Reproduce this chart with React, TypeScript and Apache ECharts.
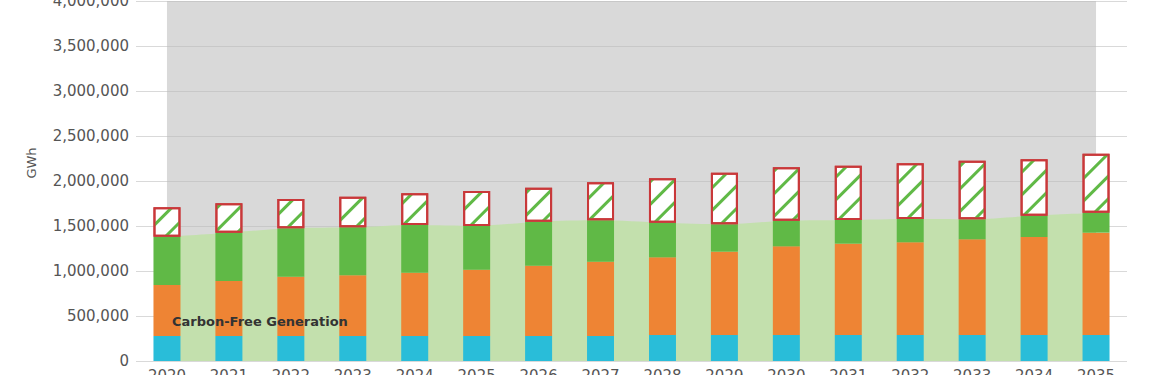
import React, { useEffect, useRef } from "react";
import * as echarts from "echarts";

const years = ["2020", "2021", "2022", "2023", "2024", "2025", "2026", "2027", "2028", "2029", "2030", "2031", "2032", "2033", "2034", "2035"];
const nuclear = [278000, 278000, 278000, 278000, 278000, 278000, 278000, 278000, 289000, 289000, 289000, 289000, 289000, 289000, 289000, 289000];
const renewables = [566000, 611000, 659000, 674000, 703000, 736000, 781000, 825000, 863000, 926000, 985000, 1015000, 1030000, 1063000, 1089000, 1137000];
const hydro = [537000, 537000, 537000, 533000, 530000, 486000, 489000, 460000, 385000, 304000, 285000, 263000, 259000, 222000, 237000, 222000];
const remainingNeed = [326000, 326000, 326000, 341000, 352000, 389000, 378000, 422000, 493000, 574000, 593000, 603000, 618000, 652000, 626000, 656000];
const carbonFree = [1381000, 1426000, 1474000, 1485000, 1511000, 1502000, 1548000, 1563000, 1537000, 1520000, 1559000, 1567000, 1578000, 1576000, 1615000, 1648000];
const yMax = 4000000;
const yStep = 500000;

const FONT = "DejaVu Sans";

export default function App() {
  const ref = useRef<HTMLDivElement>(null);
  useEffect(() => {
    if (!ref.current) return;
    const chart = echarts.init(ref.current, null, { renderer: "svg" });
    const barW = 27;
    chart.setOption({
      animation: false,
      grid: { left: 136, right: 26, top: 31, bottom: 39, containLabel: false },
      xAxis: {
        type: "category",
        data: years,
        boundaryGap: true,
        axisLine: { show: false },
        axisTick: { show: false },
        axisLabel: { color: "#555", fontFamily: FONT, fontSize: 15, margin: 7 },
      },
      yAxis: {
        type: "value",
        min: 0,
        max: yMax,
        interval: yStep,
        axisLine: { show: false },
        axisTick: { show: false },
        splitLine: { lineStyle: { color: "#d9d9d9", width: 1 } },
        axisLabel: {
          color: "#555",
          fontFamily: FONT,
          fontSize: 15,
          margin: 7,
          formatter: (v: number) => v.toLocaleString("en-US"),
        },
      },
      graphic: [
        {
          type: "text",
          x: 31,
          y: 193,
          rotation: Math.PI / 2,
          style: { text: "GWh", fill: "#555", font: `13px "${FONT}"`, align: "center", verticalAlign: "middle" },
        },
        {
          type: "text",
          x: 172,
          y: 351,
          z: 100,
          style: { text: "Carbon-Free Generation", fill: "#333", font: `bold 13px "${FONT}"`, align: "left", verticalAlign: "middle" },
        },
      ],
      series: [
        {
          name: "Forecast Period",
          type: "line",
          data: [],
          z: 0,
          markArea: {
            silent: true,
            z: 0,
            itemStyle: { color: "rgba(186,186,186,0.553)" },
            data: [[{ xAxis: years[0] }, { xAxis: years[years.length - 1] }]],
          },
        },
        {
          name: "Carbon-Free Generation",
          type: "line",
          data: carbonFree,
          smooth: 0.3,
          symbol: "none",
          z: 2,
          lineStyle: { width: 0 },
          areaStyle: { color: "#c3e0ad", opacity: 1 },
        },
        {
          name: "Nuclear",
          type: "bar",
          stack: "gen",
          barWidth: barW,
          z: 3,
          data: nuclear,
          itemStyle: { color: "#29bdd9" },
        },
        {
          name: "Renewables",
          type: "bar",
          stack: "gen",
          barWidth: barW,
          z: 3,
          data: renewables,
          itemStyle: { color: "#ee8434" },
        },
        {
          name: "Hydro",
          type: "bar",
          stack: "gen",
          barWidth: barW,
          z: 3,
          data: hydro,
          itemStyle: { color: "#60b946" },
        },
        {
          name: "Remaining Need",
          type: "bar",
          stack: "gen",
          barWidth: barW,
          z: 4,
          data: remainingNeed,
          itemStyle: {
            color: "#ffffff",
            borderColor: "#c9383a",
            borderWidth: 2,
            decal: {
              symbol: "rect",
              symbolSize: 1,
              color: "#60b946",
              dashArrayX: [1, 0],
              dashArrayY: [3, 13],
              rotation: -Math.PI / 4,
            },
          },
        },
      ],
    });
    return () => chart.dispose();
  }, []);
  return (
    <div
      ref={ref}
      style={{ position: "absolute", left: 0, top: -30, width: 1153, height: 430 }}
    />
  );
}
